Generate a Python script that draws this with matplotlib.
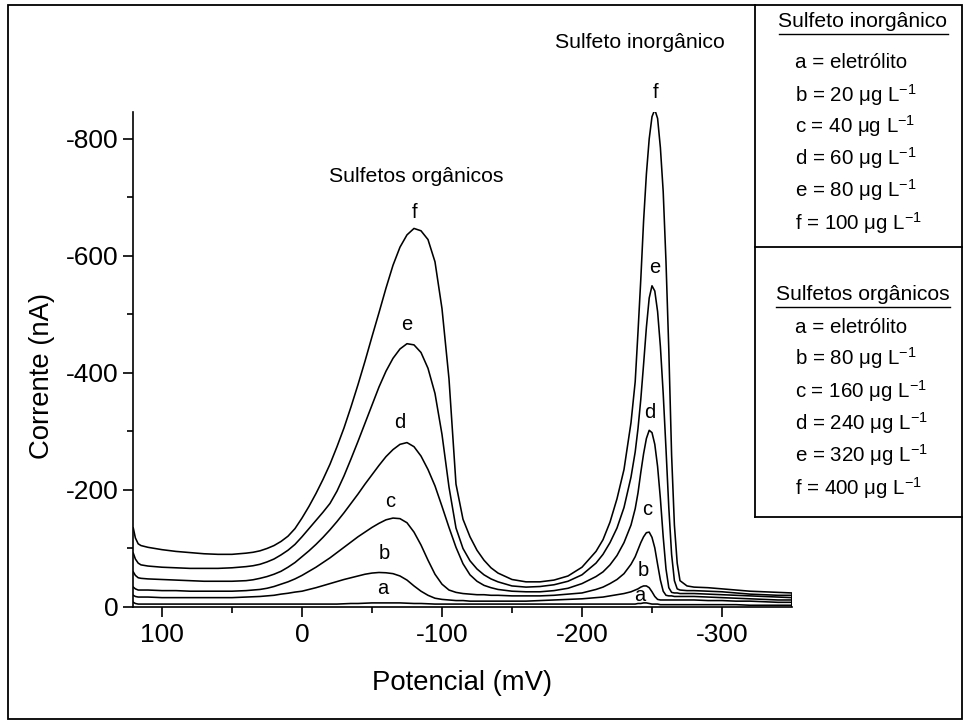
import numpy as np
import matplotlib
matplotlib.use("Agg")
import matplotlib.pyplot as plt
from matplotlib.patches import Rectangle
from matplotlib.lines import Line2D

plt.rcParams['font.family'] = ['Liberation Sans', 'DejaVu Sans']
plt.rcParams['mathtext.fontset'] = 'custom'
plt.rcParams['mathtext.rm'] = 'Liberation Sans'
plt.rcParams['mathtext.it'] = 'Liberation Sans:italic'
plt.rcParams['mathtext.bf'] = 'Liberation Sans:bold'
plt.rcParams['axes.unicode_minus'] = False

# ---------------- data (potential in mV, cathodic current magnitude in nA) ----------
potential = [120.5, 119, 117, 115, 110, 100, 90, 80, 70, 60, 50,
             40, 35, 30, 25, 20, 15, 10, 5, 0, -5, -10, -15, -20, -25, -30, -35,
             -40, -45, -50, -55, -60, -65, -70, -75, -80, -85, -90, -95,
             -100, -105, -110, -115, -120, -125, -130, -135, -140,
             -150, -160, -170, -180, -190, -200, -210, -215, -220, -225, -230,
             -235, -238, -240, -242, -244, -246, -248, -250, -252, -254, -256,
             -258, -260, -262, -264, -266, -268, -270, -275, -280, -290, -300,
             -310, -320, -330, -340, -350, -350]

curr_f = [135, 118, 108, 105, 102, 98, 95, 93, 91, 90, 90,
          92, 93.5, 96, 100, 105, 112, 121, 134, 152, 172, 194, 218, 244, 274, 306, 342,
          380, 420, 462, 503, 545, 584, 615, 636, 647, 643, 628, 590,
          510, 390, 210, 150, 120, 97, 80, 67, 58,
          47, 43, 43, 46, 53, 68, 95, 115, 145, 185, 235,
          315, 385, 470, 560, 660, 740, 800, 838, 850, 835, 785,
          710, 590, 440, 260, 140, 75, 45, 36, 34, 33, 31,
          29, 27, 26, 25, 24, 0]

curr_e = [92, 82, 75, 72, 70, 68, 67, 66, 66, 66, 67,
          69, 70.5, 73, 77, 82, 89, 97, 107, 120, 134, 148, 162, 177, 198, 224, 253,
          283, 314, 345, 376, 403, 425, 441, 450, 448, 435, 408, 365,
          295, 205, 135, 100, 79, 65, 55, 48, 43,
          36, 34, 35, 38, 44, 55, 75, 90, 110, 135, 170,
          222, 265, 305, 355, 415, 478, 528, 549, 540, 505, 445,
          365, 270, 170, 90, 45, 31, 29, 28, 28, 27, 26,
          24, 22, 21, 20, 20, 0]

curr_d = [60, 54, 50, 49, 48, 47, 46, 45, 44, 44, 44,
          45, 46.5, 49, 52, 56, 61, 68, 76, 86, 96, 107, 119, 132, 146, 161, 177,
          193, 210, 226, 242, 257, 269, 278, 281, 274, 258, 235, 207,
          172, 136, 102, 74, 55, 44, 37, 33, 30,
          27, 26, 26, 28, 32, 40, 52, 60, 72, 88, 110,
          140, 168, 195, 230, 262, 288, 302, 298, 278, 240, 185,
          120, 65, 33, 25, 24, 24, 23, 23, 23, 22, 21,
          20, 19, 18, 17, 16, 0]

curr_c = [34, 31, 29, 29, 29, 28, 28, 27, 27, 27, 27,
          28, 29, 30, 32, 35, 39, 43, 48, 54, 61, 68, 76, 84, 93, 102, 111,
          120, 128, 136, 143, 149, 152, 151, 144, 128, 106, 80, 56,
          39, 29, 25, 23, 22, 21, 21, 20, 20,
          19, 19, 19, 20, 22, 24, 30, 34, 40, 47, 57,
          73, 86, 98, 110, 120, 127, 128, 119, 101, 73, 46,
          27, 20, 19, 19, 18, 18, 18, 18, 18, 17, 16,
          15, 14, 13, 12, 12, 0]

curr_b = [20, 18, 17, 17, 17, 16, 16, 16, 16, 16, 16,
          17, 17.5, 18, 19, 20, 22, 23.5, 25.5, 27, 30, 33, 36.5, 40, 43.5, 47, 50,
          53, 56, 58, 59, 58.5, 57, 53, 46, 36, 27, 20, 15,
          13, 12, 11, 11, 10, 10, 10, 10, 10,
          10, 10, 11, 12, 13, 14, 16, 17, 19, 21, 23,
          26, 29, 31, 34, 36, 36, 33, 26, 18, 13, 12,
          12, 12, 12, 12, 12, 12, 12, 12, 12, 11, 11,
          10, 10, 9, 8, 8, 0]

curr_a = [8, 6, 5, 5, 5, 5, 5, 5, 5, 5, 5,
          5, 5, 5, 5, 5, 5, 5, 5, 5, 5, 5, 5, 5, 5, 5.5, 6,
          6, 6.5, 7, 7, 7, 7, 7, 6.5, 6, 6, 5.5, 5,
          5, 5, 5, 5, 5, 5, 5, 5, 5,
          5, 5, 5, 5, 5, 5, 5, 5, 5, 5, 5,
          5, 5, 6, 6, 7, 7, 6, 5, 5, 5, 4,
          4, 4, 4, 4, 4, 4, 4, 4, 4, 4, 4,
          4, 3, 3, 3, 3, 0]

curve_names = ['a', 'b', 'c', 'd', 'e', 'f']
curves = [curr_a, curr_b, curr_c, curr_d, curr_e, curr_f]

x_ticks = [100, 0, -100, -200, -300]
x_minor = [50, -50, -150, -250]
y_ticks = [0, -200, -400, -600, -800]
y_minor = [-100, -300, -500, -700]

legend_inorg_title = 'Sulfeto inorgânico'
legend_inorg = ['a = eletrólito', 'b = 20 μg L$^{-1}$', 'c = 40 μg L$^{-1}$',
                'd = 60 μg L$^{-1}$', 'e = 80 μg L$^{-1}$', 'f = 100 μg L$^{-1}$']
legend_org_title = 'Sulfetos orgânicos'
legend_org = ['a = eletrólito', 'b = 80 μg L$^{-1}$', 'c = 160 μg L$^{-1}$',
              'd = 240 μg L$^{-1}$', 'e = 320 μg L$^{-1}$', 'f = 400 μg L$^{-1}$']

# label positions (potential, current) for the letters at each peak
org_label_pos = [(-58, -31), (-59, -92), (-63, -180), (-70, -316), (-75, -482), (-80.7, -675)]
inorg_label_pos = [(-241.4, -20), (-243.6, -63), (-246.4, -166), (-248.6, -332), (-252, -580), (-252.9, -880)]

# ---------------- figure ----------------
W, H = 964, 727
fig = plt.figure(figsize=(W / 100, H / 100), dpi=100)

def fx(px):
    return px / W

def fy(py):
    return 1 - py / H

ax = fig.add_axes([fx(133), fy(607), fx(792) - fx(133), fy(112) - fy(607)])

pot = np.asarray(potential, dtype=float)
for vals in curves:
    assert len(vals) == len(potential)
    ax.plot(pot, -np.asarray(vals, dtype=float), color='black', lw=1.15,
            solid_joinstyle='round')

ax.set_xlim(120.7, -350)
ax.set_ylim(0, -846)

ax.set_xticks(x_ticks)
ax.set_xticks(x_minor, minor=True)
ax.set_yticks(y_ticks)
ax.set_yticks(y_minor, minor=True)
ax.set_xticklabels([str(v) for v in x_ticks])
ax.set_yticklabels([str(v) for v in y_ticks])

for s in ['top', 'right']:
    ax.spines[s].set_visible(False)
for s in ['left', 'bottom']:
    ax.spines[s].set_linewidth(1.2)

ax.tick_params(axis='both', which='major', direction='out', length=7.5, width=1.2,
               labelsize=19)
ax.tick_params(axis='both', which='minor', direction='out', length=4, width=1.2)
ax.tick_params(axis='x', which='major', pad=4)
ax.tick_params(axis='y', which='major', pad=3)

for name, (v, i) in zip(curve_names, org_label_pos):
    ax.text(v, i, name, ha='center', va='center', fontsize=14.5)
for name, (v, i) in zip(curve_names, inorg_label_pos):
    ax.text(v, i, name, ha='center', va='center', fontsize=14.5)

fig.text(fx(416), fy(177), 'Sulfetos orgânicos', ha='center', va='center', fontsize=15.3)
fig.text(fx(640), fy(42), 'Sulfeto inorgânico', ha='center', va='center', fontsize=15.3)

fig.text(fx(462), fy(683), 'Potencial (mV)', ha='center', va='center', fontsize=19.8)
fig.text(fx(42), fy(376), 'Corrente (nA)', ha='center', va='center', fontsize=19.8,
         rotation=90)

# outer frame
fig.patches.append(Rectangle((fx(8), fy(719)), fx(962) - fx(8), fy(5) - fy(719),
                             transform=fig.transFigure, fill=False, lw=1.3,
                             edgecolor='black'))
# legend box
fig.lines.append(Line2D([fx(755), fx(755)], [fy(5), fy(517)], transform=fig.transFigure,
                        color='black', lw=1.3))
fig.lines.append(Line2D([fx(755), fx(962)], [fy(517), fy(517)], transform=fig.transFigure,
                        color='black', lw=1.3))
fig.lines.append(Line2D([fx(755), fx(962)], [fy(247), fy(247)], transform=fig.transFigure,
                        color='black', lw=1.3))

t1 = fig.text(fx(863), fy(27.3), legend_inorg_title, ha='center', va='baseline', fontsize=15.2)
t2 = fig.text(fx(863), fy(300), legend_org_title, ha='center', va='baseline', fontsize=15.2)
inorg_base = [68.5, 101.5, 133, 165, 197, 229.5]
org_base = [333, 365, 397.5, 430, 462, 494.5]
for txt, b in zip(legend_inorg, inorg_base):
    fig.text(fx(795), fy(b), txt, ha='left', va='baseline', fontsize=14.8)
for txt, b in zip(legend_org, org_base):
    fig.text(fx(795), fy(b), txt, ha='left', va='baseline', fontsize=14.8)

fig.canvas.draw()
r = fig.canvas.get_renderer()
for t, uy in [(t1, 33.5), (t2, 306.5)]:
    bb = t.get_window_extent(r)
    fig.lines.append(Line2D([bb.x0 / W, bb.x1 / W], [fy(uy), fy(uy)],
                            transform=fig.transFigure, color='black', lw=1.0))

fig.savefig('out.png', dpi=100)
